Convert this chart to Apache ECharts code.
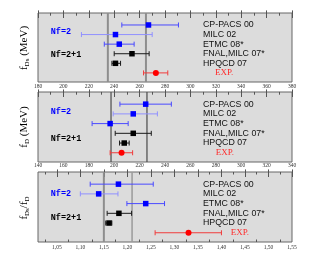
<!DOCTYPE html>
<html><head><meta charset="utf-8">
<script src="https://cdn.jsdelivr.net/npm/echarts@6/dist/echarts.min.js"></script>
<style>html,body{margin:0;padding:0;background:#fff}#c{width:330px;height:255px}</style>
</head><body><div id="c"></div><script>
// ---- data ----
const studies = ['CP-PACS 00', 'MILC 02', 'ETMC 08*', 'FNAL,MILC 07*', 'HPQCD 07', 'EXP.'];
const markerColors = ['#0000ff', '#0000ff', '#0000ff', '#000000', '#000000', '#ff0000'];
const barColors = ['#4a4aff', '#9090ff', '#4a4aff', '#1a1a1a', '#1a1a1a', '#f03c3c'];

const fDsCenter = [267, 241, 244, 254, 241, 272.8];
const fDsLow    = [246, 214.2, 232.2, 240, 238.2, 263.1];
const fDsHigh   = [290.6, 269.9, 255.7, 267.5, 245, 282.2];
const fDsBands  = [235, 265];

const fDCenter = [224.8, 215, 196.8, 215, 207.9, 205.8];
const fDLow    = [204.5, 199.2, 182.6, 200.8, 204.2, 196.8];
const fDHigh   = [245, 234, 211, 229.2, 211.8, 214.5];
const fDBands  = [197.5, 225.8];

const ratioCenter = [1.181, 1.139, 1.239, 1.182, 1.161, 1.330];
const ratioLow    = [1.121, 1.100, 1.199, 1.157, 1.154, 1.259];
const ratioHigh   = [1.255, 1.180, 1.279, 1.209, 1.167, 1.400];
const ratioBands  = [1.15, 1.21];

const ratioTickLabels = ['1,05','1,10','1,15','1,20','1,25','1,30','1,35','1,40','1,45','1,50','1,55'];
const groupLabels = ['Nf=2', 'Nf=2+1'];

// ---- layout ----
const panels = [
  {grid:{left:38, top:13, width:254, height:69}, min:180, max:380, interval:20,
   c:fDsCenter, lo:fDsLow, hi:fDsHigh, bands:fDsBands,
   bandStyles:[{color:'#8e8e8e', width:2},{color:'#8e8e8e', width:2}],
   title:'{a|f}{s|Ds}{a| (MeV)}', titleY:48, expX:215, nf:[32, 55], labelMargin:1.5},
  {grid:{left:38, top:92, width:254, height:70}, min:140, max:340, interval:20,
   c:fDCenter, lo:fDLow, hi:fDHigh, bands:fDBands,
   bandStyles:[{color:'#555', width:1.3},{color:'#555', width:1.3}],
   title:'{a|f}{s|D}{a| (MeV)}', titleY:127, expX:215.7, nf:[112.3, 139], labelMargin:1},
  {grid:{left:38, top:172, width:254, height:70}, min:1.01, max:1.55, interval:null,
   c:ratioCenter, lo:ratioLow, hi:ratioHigh, bands:ratioBands,
   bandStyles:[{color:'#8e8e8e', width:2},{color:'#9a9a9a', width:1.5}],
   title:'{a|f}{s|Ds}{a|/f}{s|D}', titleY:208, expX:230.7, nf:[194, 217.7], labelMargin:2.5}
];
const YMIN = -0.25, YMAX = 6.95;

const ratioTicks = ratioTickLabels.map(s => parseFloat(s.replace(',', '.')));
const ratioMinor = [1.025].concat(ratioTicks.slice(0, -1).map((v, i) => (v + ratioTicks[i + 1]) / 2));

const tickColor = '#555';
const labelFont = {fontFamily:'Liberation Serif', fontSize:5.5, color:'#333'};

const grids = [], xAxes = [], yAxes = [], series = [];
panels.forEach((p, i) => {
  grids.push(Object.assign({show:true, backgroundColor:'#dcdcdc', borderColor:'#666', borderWidth:1}, p.grid));
  yAxes.push({gridIndex:i, type:'value', min:YMIN, max:YMAX, inverse:true, show:false});
  const mainIdx = xAxes.length;
  ['bottom', 'top'].forEach(pos => {
    const ax = {gridIndex:i, type:'value', position:pos, min:p.min, max:p.max,
      axisLine:{show:false}, splitLine:{show:false},
      axisTick:{inside:true, length:5, lineStyle:{color:tickColor, width:1}},
      axisLabel:Object.assign({show:pos === 'bottom', margin:p.labelMargin}, labelFont)};
    if (p.interval) {
      ax.interval = p.interval;
      ax.minorTick = {show:true, splitNumber:2, length:2.5, lineStyle:{color:tickColor, width:1}};
    } else {
      ax.axisTick.customValues = ratioTicks;
      ax.axisLabel.customValues = ratioTicks;
      ax.axisLabel.formatter = v => v.toFixed(2).replace('.', ',');
    }
    xAxes.push(ax);
    if (!p.interval) {
      xAxes.push({gridIndex:i, type:'value', position:pos, min:p.min, max:p.max,
        axisLine:{show:false}, splitLine:{show:false}, axisLabel:{show:false},
        axisTick:{inside:true, length:2.5, customValues:ratioMinor, lineStyle:{color:tickColor, width:1}}});
    }
  });
  // vertical band lines
  series.push({type:'custom', xAxisIndex:mainIdx, yAxisIndex:i, silent:true, z:1,
    data:p.bands.map((v, k) => [v, k]),
    encode:{x:0},
    renderItem:(params, api) => {
      const cs = params.coordSys;
      const x = api.coord([api.value(0), 1])[0];
      const st = p.bandStyles[api.value(1)];
      return {type:'line', shape:{x1:x, y1:cs.y, x2:x, y2:cs.y + cs.height},
        style:{stroke:st.color, lineWidth:st.width}};
    }});
  // error bars
  series.push({type:'custom', xAxisIndex:mainIdx, yAxisIndex:i, silent:true, z:3,
    data:studies.map((s, k) => [p.lo[k], p.hi[k], k + 1, k]),
    encode:{x:[0, 1], y:2},
    renderItem:(params, api) => {
      const a = api.coord([api.value(0), api.value(2)]);
      const b = api.coord([api.value(1), api.value(2)]);
      const col = barColors[api.value(3)];
      const h = 2.5;
      return {type:'group', children:[
        {type:'line', shape:{x1:a[0], y1:a[1], x2:b[0], y2:b[1]}, style:{stroke:col, lineWidth:1}},
        {type:'line', shape:{x1:a[0], y1:a[1] - h, x2:a[0], y2:a[1] + h}, style:{stroke:col, lineWidth:1}},
        {type:'line', shape:{x1:b[0], y1:b[1] - h, x2:b[0], y2:b[1] + h}, style:{stroke:col, lineWidth:1}}
      ]};
    }});
  // markers
  series.push({type:'scatter', xAxisIndex:mainIdx, yAxisIndex:i, silent:true, z:4,
    data:studies.map((s, k) => ({value:[p.c[k], k + 1],
      symbol: s === 'EXP.' ? 'circle' : 'rect',
      symbolSize: s === 'EXP.' ? 6 : 5.5,
      itemStyle:{color:markerColors[k], opacity:1}}))});
});

const chart = echarts.init(document.getElementById('c'), null, {renderer:'canvas'});
chart.setOption({animation:false, backgroundColor:'#fff', grid:grids, xAxis:xAxes, yAxis:yAxes, series:series});

// ---- text annotations ----
const graphic = [];
panels.forEach((p, i) => {
  studies.forEach((s, k) => {
    const y = chart.convertToPixel({yAxisIndex:i}, k + 1);
    const isExp = s === 'EXP.';
    graphic.push({type:'text', x: isExp ? p.expX : 203, y:y, silent:true,
      style:{text:s, fill: isExp ? '#ff2a2a' : '#111', fontSize: isExp ? 9 : 8.8,
        fontFamily: isExp ? 'Liberation Serif' : 'Liberation Sans',
        textAlign:'left', textVerticalAlign:'middle'}});
  });
  groupLabels.forEach((g, k) => {
    graphic.push({type:'text', x:50.7, y:p.nf[k], silent:true,
      style:{text:g, fill: k === 0 ? '#0000ff' : '#000', fontSize:8.5, fontWeight:'bold',
        fontFamily:'Liberation Mono', textAlign:'left', textVerticalAlign:'middle'}});
  });
  graphic.push({type:'text', x:24, y:p.titleY, rotation:Math.PI / 2, silent:true,
    style:{text:p.title, textAlign:'center', textVerticalAlign:'middle',
      rich:{a:{fontFamily:'Liberation Serif', fontSize:11, fill:'#000', lineHeight:14},
            s:{fontFamily:'Liberation Serif', fontSize:7, fill:'#000', verticalAlign:'bottom', lineHeight:14}}}});
});
chart.setOption({graphic:graphic});
</script></body></html>
